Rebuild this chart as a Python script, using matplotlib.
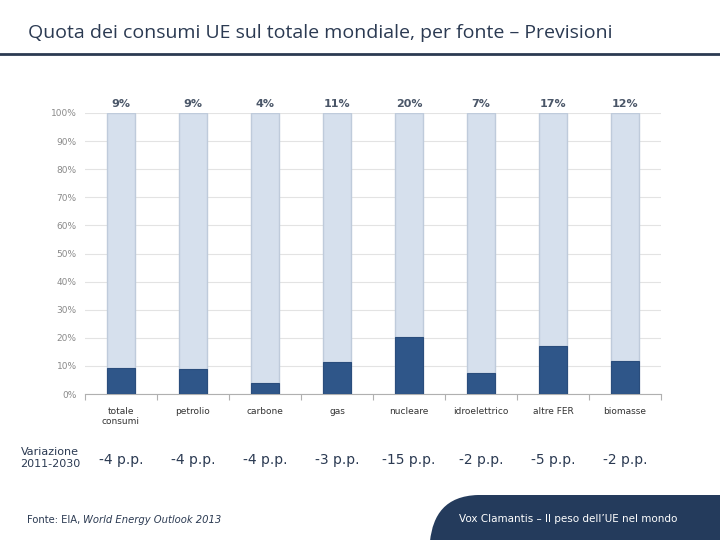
import matplotlib.pyplot as plt
from matplotlib.patches import PathPatch
from matplotlib.path import Path
import numpy as np

# data
categories = ['totale\nconsumi', 'petrolio', 'carbone', 'gas', 'nucleare',
              'idroelettrico', 'altre FER', 'biomasse']
quota_ue = [9.3, 8.8, 4.0, 11.4, 20.3, 7.4, 17.0, 11.7]
top_labels = ['9%', '9%', '4%', '11%', '20%', '7%', '17%', '12%']
variazione = ['-4 p.p.', '-4 p.p.', '-4 p.p.', '-3 p.p.', '-15 p.p.',
              '-2 p.p.', '-5 p.p.', '-2 p.p.']

navy = '#2b3a52'
dark_bar = '#2f5689'
light_bar = '#d6e0ed'

fig = plt.figure(figsize=(7.2, 5.4), dpi=100)
fig.patch.set_facecolor('white')

# title and rule
fig.text(28/720, 1 - 33/540, 'Quota dei consumi UE sul totale mondiale, per fonte \u2013 Previsioni',
         fontsize=14, color=navy, va='center', ha='left', family='Open Sans')
fig.add_artist(plt.Line2D([0, 1], [1 - 54/540, 1 - 54/540], color=navy, lw=2))

ax = fig.add_axes([85/720, 1 - 394/540, (661 - 85)/720, (394 - 113)/540])
x = np.arange(len(categories))
w = 0.39
ax.bar(x, [100] * len(x), width=w, color=light_bar, edgecolor='#bfcbdb', linewidth=1, zorder=2)
ax.bar(x, quota_ue, width=w, color=dark_bar, edgecolor='#2a4d7c', linewidth=0.8, zorder=3)

for i, lab in enumerate(top_labels):
    ax.text(x[i], 101.5, lab, ha='center', va='bottom', fontsize=8, fontweight='bold',
            color='#4a5668')

ax.set_xlim(-0.5, 7.5)
ax.set_ylim(0, 100)
ax.set_yticks(np.arange(0, 101, 10))
ax.set_yticklabels([f'{v}%' for v in range(0, 101, 10)], fontsize=6.5, color='#8a8a8a')
ax.yaxis.grid(True, color='#e3e3e3', lw=0.8, zorder=0)
ax.set_axisbelow(True)
ax.tick_params(axis='y', length=0, pad=6)

ax.set_xticks(np.arange(-0.5, 8, 1))
ax.set_xticklabels([])
ax.tick_params(axis='x', length=4, color='#b0b0b0', direction='out')
ax.set_xticks(x, minor=True)
ax.set_xticklabels(categories, minor=True, fontsize=6.5, color='#333333', va='top')
ax.tick_params(axis='x', which='minor', length=0, pad=9)

for s in ['top', 'right', 'left']:
    ax.spines[s].set_visible(False)
ax.spines['bottom'].set_color('#b0b0b0')

# variation row
fig.text(80/720, 1 - 458/540, 'Variazione\n2011-2030', ha='right', va='center',
         fontsize=8, color=navy, linespacing=1.2, multialignment='center')
for i, v in enumerate(variazione):
    xf = (121 + 72 * i) / 720
    fig.text(xf, 1 - 460/540, v, ha='center', va='center', fontsize=10, color=navy)

# source line
renderer = fig.canvas.get_renderer()
t1 = fig.text(27/720, 1 - 520/540, 'Fonte: EIA, ', ha='left', va='center', fontsize=7.2, color=navy)
bb = t1.get_window_extent(renderer=renderer)
fig.text(bb.x1 / 720, 1 - 520/540, 'World Energy Outlook 2013', ha='left', va='center',
         fontsize=7.2, color=navy, style='italic')

# footer banner with rounded top-left corner
def fx(px):
    return px / 720

def fy(py):
    return 1 - py / 540

verts = [(fx(430), fy(541)), (fx(433), fy(515)), (fx(445), fy(496)), (fx(478), fy(495)),
         (fx(721), fy(495)), (fx(721), fy(541)), (fx(430), fy(541))]
codes = [Path.MOVETO, Path.CURVE4, Path.CURVE4, Path.CURVE4,
         Path.LINETO, Path.LINETO, Path.CLOSEPOLY]
banner = PathPatch(Path(verts, codes), transform=fig.transFigure,
                   facecolor='#243b5c', edgecolor='none')
fig.add_artist(banner)
fig.text(568/720, 1 - 519/540, 'Vox Clamantis \u2013 Il peso dell\u2019UE nel mondo',
         ha='center', va='center', fontsize=7.5, color='white')

fig.savefig('out.png', dpi=100)
